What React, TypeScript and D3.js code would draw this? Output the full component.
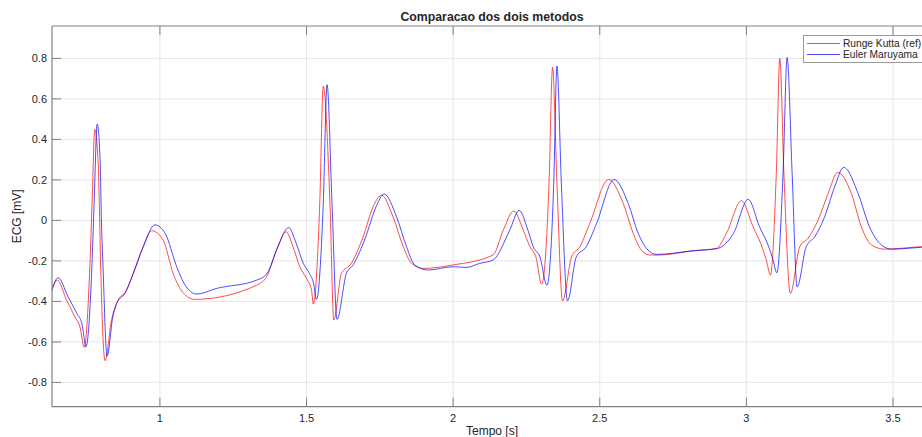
import { useEffect } from "react";
import * as d3 from "d3";

// Runge Kutta (referência)
const tempoRK = [0.631, 0.65, 0.682, 0.71, 0.727, 0.742, 0.761, 0.769, 0.778, 0.79, 0.793, 0.798, 0.813, 0.835, 0.852, 0.881, 0.909, 0.943, 0.972, 1.011, 1.045, 1.079, 1.119, 1.33, 1.364, 1.398, 1.43, 1.454, 1.477, 1.5, 1.517, 1.523, 1.545, 1.557, 1.58, 1.593, 1.619, 1.653, 1.693, 1.727, 1.756, 1.795, 1.83, 1.858, 1.898, 2.0, 2.136, 2.171, 2.207, 2.239, 2.262, 2.282, 2.302, 2.327, 2.339, 2.354, 2.373, 2.404, 2.432, 2.466, 2.53, 2.58, 2.614, 2.642, 2.671, 2.705, 2.818, 2.898, 2.932, 2.983, 3.023, 3.051, 3.068, 3.082, 3.102, 3.114, 3.128, 3.15, 3.182, 3.21, 3.244, 3.279, 3.311, 3.358, 3.392, 3.427, 3.472, 3.597, 3.64];
const ecgRK = [-0.35, -0.295, -0.394, -0.476, -0.525, -0.627, -0.229, 0.1, 0.449, 0.265, 0.1, -0.229, -0.693, -0.492, -0.41, -0.36, -0.262, -0.13, -0.051, -0.097, -0.262, -0.357, -0.39, -0.32, -0.278, -0.147, -0.056, -0.13, -0.229, -0.287, -0.344, -0.413, 0.08, 0.663, 0.08, -0.492, -0.262, -0.212, -0.081, 0.067, 0.125, 0.018, -0.13, -0.212, -0.237, -0.22, -0.171, -0.048, 0.047, -0.048, -0.13, -0.18, -0.315, 0.183, 0.756, 0.183, -0.397, -0.18, -0.13, -0.015, 0.202, 0.084, -0.064, -0.147, -0.171, -0.171, -0.15, -0.138, -0.064, 0.097, -0.032, -0.122, -0.196, -0.27, 0.232, 0.8, 0.232, -0.36, -0.13, -0.089, 0.0, 0.133, 0.237, 0.133, -0.032, -0.122, -0.142, -0.13, -0.128];

// Euler Maruyama
const tempoEM = [0.631, 0.653, 0.686, 0.717, 0.734, 0.748, 0.768, 0.776, 0.786, 0.797, 0.799, 0.806, 0.82, 0.839, 0.856, 0.884, 0.911, 0.943, 0.983, 1.02, 1.055, 1.082, 1.125, 1.193, 1.33, 1.364, 1.402, 1.439, 1.464, 1.489, 1.51, 1.524, 1.534, 1.557, 1.57, 1.587, 1.604, 1.636, 1.659, 1.702, 1.737, 1.765, 1.807, 1.841, 1.869, 1.915, 2.0, 2.046, 2.091, 2.136, 2.193, 2.225, 2.255, 2.273, 2.296, 2.32, 2.343, 2.354, 2.369, 2.39, 2.42, 2.454, 2.489, 2.549, 2.597, 2.631, 2.665, 2.693, 2.818, 2.898, 2.956, 3.006, 3.045, 3.074, 3.091, 3.104, 3.125, 3.139, 3.156, 3.173, 3.204, 3.233, 3.267, 3.301, 3.332, 3.381, 3.42, 3.461, 3.495, 3.597, 3.64];
const ecgEM = [-0.344, -0.283, -0.375, -0.46, -0.51, -0.624, -0.229, 0.1, 0.476, 0.265, 0.1, -0.229, -0.67, -0.48, -0.4, -0.35, -0.255, -0.13, -0.022, -0.07, -0.22, -0.31, -0.364, -0.336, -0.295, -0.265, -0.13, -0.035, -0.11, -0.212, -0.262, -0.31, -0.39, 0.08, 0.67, 0.08, -0.489, -0.262, -0.22, -0.081, 0.067, 0.13, 0.018, -0.13, -0.22, -0.245, -0.229, -0.232, -0.212, -0.196, -0.048, 0.049, -0.048, -0.13, -0.18, -0.32, 0.183, 0.762, 0.183, -0.397, -0.18, -0.13, -0.015, 0.202, 0.084, -0.064, -0.147, -0.168, -0.15, -0.14, -0.064, 0.104, -0.032, -0.122, -0.196, -0.259, 0.232, 0.805, 0.232, -0.328, -0.13, -0.081, 0.018, 0.166, 0.262, 0.133, -0.032, -0.122, -0.142, -0.133, -0.13];

const xTicks = [1, 1.5, 2, 2.5, 3, 3.5];
const yTicks = [-0.8, -0.6, -0.4, -0.2, 0, 0.2, 0.4, 0.6, 0.8];
const legendLabels = ["Runge Kutta (ref)", "Euler Maruyama"];
const seriesColors = ["#ff0000", "#0000ff"];

const App = () => {
    const width = 922;
    const height = 437;
    const margin = { top: 26, left: 52, right: 932, bottom: 406.7 };
    const font = "'Liberation Sans', Arial, sans-serif";
    const axisColor = "#808080";
    const textColor = "#262626";

    useEffect(() => {
        document.body.style.margin = "0";
    }, []);

    const xScale = d3.scaleLinear().domain([0.632, 3.633]).range([margin.left, margin.right]);
    const yScale = d3.scaleLinear().domain([-0.92, 0.96]).range([margin.bottom, margin.top]);

    const line = d3.line<[number, number]>()
        .x(d => xScale(d[0]))
        .y(d => yScale(d[1]))
        .curve(d3.curveMonotoneX);

    const rk = tempoRK.map((t, i) => [t, ecgRK[i]] as [number, number]);
    const em = tempoEM.map((t, i) => [t, ecgEM[i]] as [number, number]);

    return (
        <svg width={width} height={height} style={{ display: 'block', background: '#fff' }}>
            <defs>
                <clipPath id="plotArea">
                    <rect x={margin.left} y={margin.top} width={margin.right - margin.left} height={margin.bottom - margin.top} />
                </clipPath>
            </defs>
            <rect x={0} y={0} width={width} height={height} fill="#fff" />
            {/* grid */}
            {xTicks.map(t =>
                <line key={'gx' + t} x1={xScale(t)} x2={xScale(t)} y1={margin.top} y2={margin.bottom} stroke="#e6e6e6" strokeWidth={1} />
            )}
            {yTicks.map(t =>
                <line key={'gy' + t} x1={margin.left} x2={margin.right} y1={yScale(t)} y2={yScale(t)} stroke="#e6e6e6" strokeWidth={1} />
            )}
            {/* series */}
            <g clipPath="url(#plotArea)">
                <path d={line(rk) || ''} fill="none" stroke={seriesColors[0]} strokeOpacity={0.7} strokeWidth={1} />
                <path d={line(em) || ''} fill="none" stroke={seriesColors[1]} strokeOpacity={0.7} strokeWidth={1} />
            </g>
            {/* box */}
            <line x1={margin.left} x2={margin.left} y1={margin.top} y2={margin.bottom} stroke={axisColor} strokeWidth={1.2} />
            <line x1={margin.left} x2={margin.right} y1={margin.bottom} y2={margin.bottom} stroke={axisColor} strokeWidth={1.2} />
            <line x1={margin.left} x2={margin.right} y1={margin.top} y2={margin.top} stroke={axisColor} strokeWidth={1} />
            {/* x ticks */}
            {xTicks.map(t =>
                <g key={'xt' + t}>
                    <line x1={xScale(t)} x2={xScale(t)} y1={margin.bottom} y2={margin.bottom - 9} stroke={axisColor} />
                    <line x1={xScale(t)} x2={xScale(t)} y1={margin.top} y2={margin.top + 9} stroke={axisColor} />
                    <text x={xScale(t)} y={margin.bottom + 15} textAnchor="middle" fontFamily={font} fontSize={11} fill={textColor}>{t}</text>
                </g>
            )}
            {/* y ticks */}
            {yTicks.map(t =>
                <g key={'yt' + t}>
                    <line x1={margin.left} x2={margin.left + 9} y1={yScale(t)} y2={yScale(t)} stroke={axisColor} />
                    <text x={margin.left - 5} y={yScale(t)} dy="0.35em" textAnchor="end" fontFamily={font} fontSize={11} fill={textColor}>{t}</text>
                </g>
            )}
            {/* labels */}
            <text x={(margin.left + margin.right) / 2} y={21} textAnchor="middle" fontFamily={font} fontSize={12.3} fontWeight="bold" fill={textColor}>Comparacao dos dois metodos</text>
            <text x={(margin.left + margin.right) / 2} y={435} textAnchor="middle" fontFamily={font} fontSize={12} fill={textColor}>Tempo [s]</text>
            <text transform={`translate(21,${(margin.top + margin.bottom) / 2}) rotate(-90)`} textAnchor="middle" fontFamily={font} fontSize={12} fill={textColor}>ECG [mV]</text>
            {/* legend */}
            <g>
                <rect x={803.5} y={35.5} width={124} height={27} fill="#fff" stroke="#999" strokeWidth={1} />
                {legendLabels.map((label, i) =>
                    <g key={label} transform={`translate(807,${43.5 + i * 11})`}>
                        <line x1={0} x2={33} y1={0} y2={0} stroke={seriesColors[i]} strokeOpacity={0.7} />
                        <text x={36} y={0} dy="0.35em" fontFamily={font} fontSize={10.2} fill={textColor}>{label}</text>
                    </g>
                )}
            </g>
        </svg>
    );
};

export default App;
